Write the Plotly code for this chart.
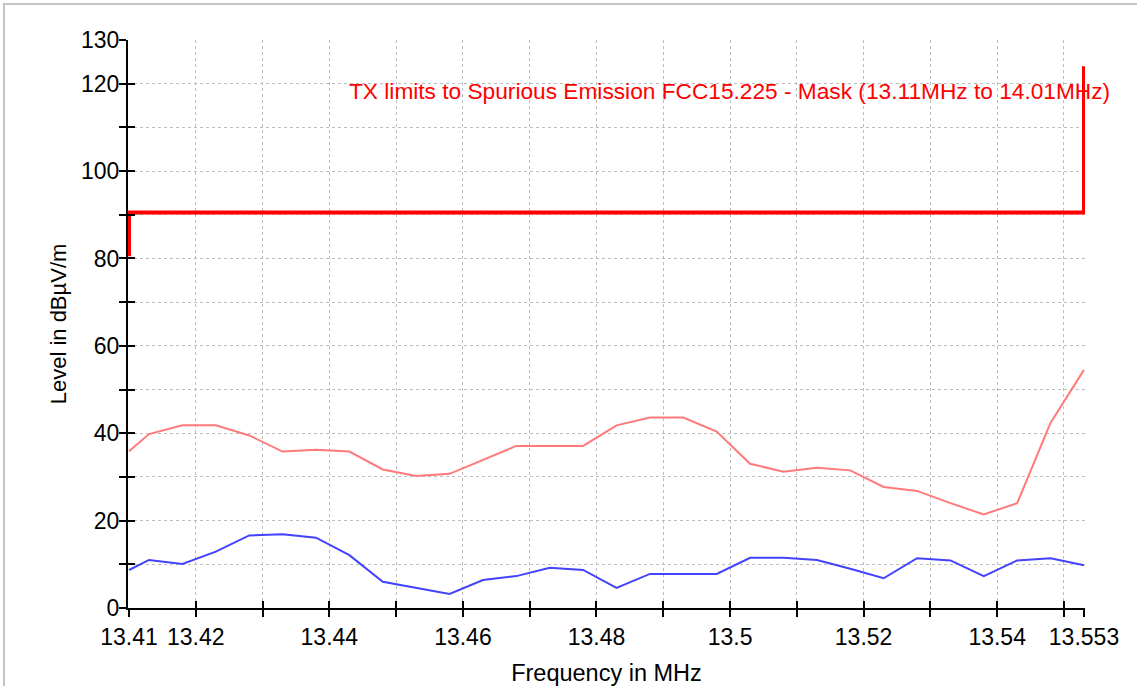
import plotly.graph_objects as go

# measured spectrum (MHz / dBuV/m)
freq_mhz = [13.41, 13.413, 13.418, 13.423, 13.428, 13.433, 13.438, 13.443, 13.448, 13.453,
            13.458, 13.463, 13.468, 13.473, 13.478, 13.483, 13.488, 13.493, 13.498, 13.503,
            13.508, 13.513, 13.518, 13.523, 13.528, 13.533, 13.538, 13.543, 13.548, 13.553]
peak_level = [35.9, 39.8, 41.8, 41.8, 39.5, 35.8, 36.2, 35.8, 31.7, 30.2,
              30.7, 33.9, 37.1, 37.1, 37.1, 41.8, 43.6, 43.6, 40.4, 33.0,
              31.2, 32.1, 31.5, 27.7, 26.8, 24.0, 21.4, 24.0, 42.4, 54.5]
avg_level = [8.7, 11.0, 10.1, 12.9, 16.6, 16.9, 16.1, 12.1, 6.0, 4.6,
             3.2, 6.4, 7.3, 9.2, 8.7, 4.6, 7.8, 7.8, 7.8, 11.5,
             11.5, 11.0, 9.0, 6.8, 11.4, 10.9, 7.3, 10.9, 11.4, 9.8]

# FCC 15.225 mask
limit_freq = [13.41, 13.41, 13.553, 13.553]
limit_level = [80.5, 90.5, 90.5, 124.0]
limit_label = "TX limits to Spurious Emission FCC15.225 - Mask (13.11MHz to 14.01MHz)"

# axis ticks
x_tickvals = [13.41, 13.42, 13.43, 13.44, 13.45, 13.46, 13.47, 13.48, 13.49, 13.5,
              13.51, 13.52, 13.53, 13.54, 13.55, 13.553]
x_ticktext = ["13.41", "13.42", "", "13.44", "", "13.46", "", "13.48", "", "13.5",
              "", "13.52", "", "13.54", "", "13.553"]
y_tickvals = [0, 10, 20, 30, 40, 50, 60, 70, 80, 90, 100, 110, 120, 130]
y_ticktext = ["0", "", "20", "", "40", "", "60", "", "80", "", "100", "", "120", "130"]

FONT = "Arial, Liberation Sans, sans-serif"
# tiny pad so the mask's vertical edges aren't cut in half by the plot clip
XPAD = 0.00015

fig = go.Figure()

fig.add_trace(go.Scatter(x=freq_mhz, y=peak_level, mode='lines',
                         line=dict(color='#ff7a7a', width=2), showlegend=False))
fig.add_trace(go.Scatter(x=freq_mhz, y=avg_level, mode='lines',
                         line=dict(color='#4242ff', width=2), showlegend=False))
fig.add_trace(go.Scatter(x=limit_freq, y=limit_level, mode='lines',
                         line=dict(color='#ff0000', width=4), showlegend=False))

fig.add_annotation(x=13.4427, y=118.3, xref='x', yref='y', text=limit_label,
                   showarrow=False, xanchor='left', yanchor='middle',
                   font=dict(family=FONT, size=22.7, color='#ff0000'))

# outer frame (only top/left edges fall inside the page)
fig.add_shape(type='rect', xref='paper', yref='paper',
              x0=-0.1296, x1=1.08, y0=-0.2, y1=1.0634,
              line=dict(color='#c4c4c4', width=2))

axis_common = dict(showline=True, linecolor='black', linewidth=2,
                   ticks='outside', ticklen=7, tickwidth=2, tickcolor='black',
                   showgrid=True, gridcolor='#bdbdbd', griddash='dot', gridwidth=1,
                   zeroline=False, automargin=False,
                   tickfont=dict(family=FONT, size=23, color='black'))

fig.update_layout(
    width=1137, height=686,
    margin=dict(l=128, r=52, t=40, b=78),
    paper_bgcolor='white', plot_bgcolor='white',
    xaxis=dict(range=[13.41 - XPAD, 13.553 + XPAD], tickmode='array', tickvals=x_tickvals,
               ticktext=x_ticktext,
               title=dict(text='Frequency in MHz', standoff=16,
                          font=dict(family=FONT, size=23.5, color='black')),
               **axis_common),
    yaxis=dict(range=[0, 130], tickmode='array', tickvals=y_tickvals,
               ticktext=y_ticktext, ticklabelstandoff=-5,
               title=dict(text='Level in dBµV/m', standoff=8,
                          font=dict(family=FONT, size=22, color='black')),
               **axis_common),
    # inner halves of the crossing tick marks
    xaxis2=dict(overlaying='x', matches='x', anchor='y', side='bottom',
                tickmode='array', tickvals=x_tickvals, showticklabels=False,
                ticks='inside', ticklen=7, tickwidth=2, tickcolor='black',
                showgrid=False, zeroline=False, showline=False),
    yaxis2=dict(overlaying='y', matches='y', anchor='x', side='left',
                tickmode='array', tickvals=y_tickvals, showticklabels=False,
                ticks='inside', ticklen=7, tickwidth=2, tickcolor='black',
                showgrid=False, zeroline=False, showline=False),
)

# invisible helper so the overlay axes are drawn
fig.add_trace(go.Scatter(x=[13.41], y=[0], xaxis='x2', yaxis='y2', mode='markers',
                         marker=dict(opacity=0), showlegend=False, hoverinfo='skip'))

# drop the default body margin so the figure sits at the page origin
fig.write_html("out.html", config={'displayModeBar': False},
               post_script="document.body.style.margin='0';")
